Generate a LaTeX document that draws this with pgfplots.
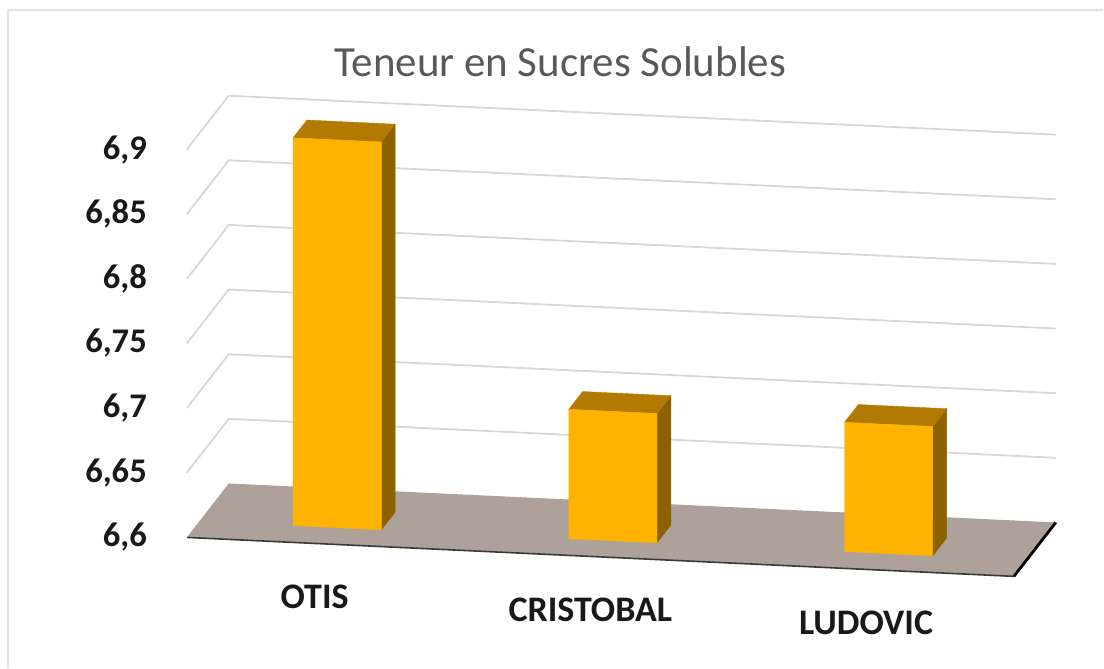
\documentclass[border=0pt]{standalone}
\usepackage{pgfplots}
\pgfplotsset{compat=1.18}
\usepackage{fontspec}
\setmainfont{Carlito}
\definecolor{barfront}{RGB}{255,178,0}
\definecolor{barside}{RGB}{140,98,0}
\definecolor{bartop}{RGB}{178,122,0}
\definecolor{floorc}{RGB}{173,161,153}
\definecolor{gridc}{RGB}{215,215,215}
\definecolor{titlec}{RGB}{89,89,89}
\definecolor{labc}{RGB}{25,25,25}

\begin{document}
\begin{tikzpicture}
\begin{axis}[
  x={(138pt,-6.5pt)}, y={(21pt,27pt)}, z={(0pt,647pt)},
  xmin=0, xmax=3, ymin=0, ymax=1, zmin=6.6, zmax=6.9,
  hide axis, clip=false,
]
% page frame
\path (axis cs:-0.6775,0,7.00896) -- (axis cs:3.3225,0,7.04914)
  -- (axis cs:3.3225,0,6.53291) -- (axis cs:-0.6775,0,6.49273) -- cycle;
\draw[gray!22, line width=1.2pt] (axis cs:-0.6486,0,6.49302)
  -- (axis cs:-0.6486,0,7.00152) -- (axis cs:3.3225,0,7.04141);

% floor
\addplot3[fill=floorc, draw=none] coordinates {(0,0,6.6)(3,0,6.6)(3,1,6.6)(0,1,6.6)} -- cycle;
\addplot3[gray!45!black, line width=0.8pt] coordinates {(0,0,6.6)(3,0,6.6)};
\addplot3[black, line width=1.4pt] coordinates {(3,0,6.6)(3,1,6.6)};

% grid on the walls
\addplot3[gridc, line width=0.9pt] coordinates {(0,0,6.65)(0,1,6.65)(3,1,6.65)};
\addplot3[gridc, line width=0.9pt] coordinates {(0,0,6.7)(0,1,6.7)(3,1,6.7)};
\addplot3[gridc, line width=0.9pt] coordinates {(0,0,6.75)(0,1,6.75)(3,1,6.75)};
\addplot3[gridc, line width=0.9pt] coordinates {(0,0,6.8)(0,1,6.8)(3,1,6.8)};
\addplot3[gridc, line width=0.9pt] coordinates {(0,0,6.85)(0,1,6.85)(3,1,6.85)};
\addplot3[gridc, line width=0.9pt] coordinates {(0,0,6.9)(0,1,6.9)(3,1,6.9)};

% OTIS 6.9
\addplot3[fill=barside, draw=barside, line width=0.2pt] coordinates {(0.66,0.3,6.6)(0.66,0.63,6.6)(0.66,0.63,6.9)(0.66,0.3,6.9)} -- cycle;
\addplot3[fill=bartop, draw=bartop, line width=0.2pt] coordinates {(0.34,0.3,6.9)(0.66,0.3,6.9)(0.66,0.63,6.9)(0.34,0.63,6.9)} -- cycle;
\addplot3[fill=barfront, draw=barfront, line width=0.2pt] coordinates {(0.34,0.3,6.6)(0.66,0.3,6.6)(0.66,0.3,6.9)(0.34,0.3,6.9)} -- cycle;

% CRISTOBAL 6.70
\addplot3[fill=barside, draw=barside, line width=0.2pt] coordinates {(1.66,0.3,6.6)(1.66,0.63,6.6)(1.66,0.63,6.70)(1.66,0.3,6.70)} -- cycle;
\addplot3[fill=bartop, draw=bartop, line width=0.2pt] coordinates {(1.34,0.3,6.70)(1.66,0.3,6.70)(1.66,0.63,6.70)(1.34,0.63,6.70)} -- cycle;
\addplot3[fill=barfront, draw=barfront, line width=0.2pt] coordinates {(1.34,0.3,6.6)(1.66,0.3,6.6)(1.66,0.3,6.70)(1.34,0.3,6.70)} -- cycle;

% LUDOVIC 6.70
\addplot3[fill=barside, draw=barside, line width=0.2pt] coordinates {(2.66,0.3,6.6)(2.66,0.63,6.6)(2.66,0.63,6.70)(2.66,0.3,6.70)} -- cycle;
\addplot3[fill=bartop, draw=bartop, line width=0.2pt] coordinates {(2.34,0.3,6.70)(2.66,0.3,6.70)(2.66,0.63,6.70)(2.34,0.63,6.70)} -- cycle;
\addplot3[fill=barfront, draw=barfront, line width=0.2pt] coordinates {(2.34,0.3,6.6)(2.66,0.3,6.6)(2.66,0.3,6.70)(2.34,0.3,6.70)} -- cycle;

% value labels on the left wall
\tikzset{zlab/.style={anchor=east, xshift=-16.5pt, text=labc, font=\fontsize{17.3}{20}\selectfont\bfseries}}
\node[zlab] at (axis cs:0,0,6.6) {6,6};
\node[zlab] at (axis cs:0,0,6.65) {6,65};
\node[zlab] at (axis cs:0,0,6.7) {6,7};
\node[zlab] at (axis cs:0,0,6.75) {6,75};
\node[zlab] at (axis cs:0,0,6.8) {6,8};
\node[zlab] at (axis cs:0,0,6.85) {6,85};
\node[zlab] at (axis cs:0,0,6.9) {6,9};

% categories
\tikzset{xlab/.style={anchor=center, yshift=-26.5pt, xshift=-5pt, text=labc, font=\fontsize{18}{21}\selectfont\bfseries}}
\node[xlab] at (axis cs:0.5,0,6.6) {OTIS};
\node[xlab] at (axis cs:1.5,0,6.6) {CRISTOBAL};
\node[xlab] at (axis cs:2.5,0,6.6) {LUDOVIC};

% title
\node[text=titlec, font=\fontsize{21.5}{25}\selectfont] at (axis cs:1.3551,0,6.98146) {Teneur en Sucres Solubles};
\end{axis}
\end{tikzpicture}
\end{document}
